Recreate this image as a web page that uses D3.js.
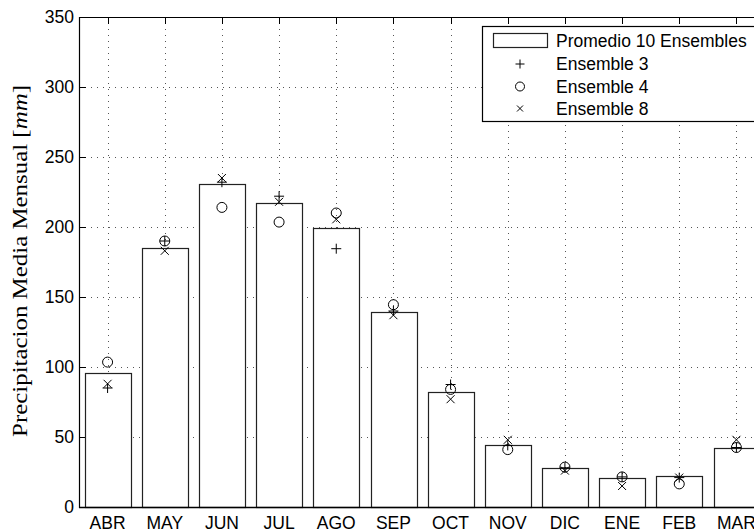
<!DOCTYPE html>
<html>
<head>
<meta charset="utf-8">
<script src="https://cdn.jsdelivr.net/npm/d3@7"></script>
<style>
  html, body { margin: 0; padding: 0; background: #fff; }
  svg { display: block; }
  .sans { font-family: "Liberation Sans", Arial, Helvetica, sans-serif; }
</style>
</head>
<body>
<svg id="chart" width="754" height="531"></svg>
<script>
// Monthly mean precipitation (mm): 10-ensemble average and three single ensembles
const months = ["ABR", "MAY", "JUN", "JUL", "AGO", "SEP", "OCT", "NOV", "DIC", "ENE", "FEB", "MAR"];
const promedio = [96, 185, 231, 217, 199, 139, 82, 44, 28, 20.5, 22, 42];
const ensemble3 = [85, 190, 232, 222, 184.5, 140, 87.5, 44, 28, 21.5, 21, 42.5];
const ensemble4 = [103.5, 190, 214, 203.5, 210, 144.5, 84, 41, 28.5, 21.5, 16.5, 42.5];
const ensemble8 = [88, 183, 235, 218, 205.5, 137, 77, 48, 26, 15, 21, 48];
const yTicks = [0, 50, 100, 150, 200, 250, 300, 350];

const svg = d3.select("#chart");
const plotL = 79, plotR = 765, plotT = 17, plotB = 507;

const x = d3.scaleLinear().domain([0.5, 12.5]).range([plotL, plotR]);
const y = d3.scaleLinear().domain([0, 350]).range([plotB, plotT]);
const barW = x(0.8) - x(0);
const tickLen = 7;
const fontPx = 17.5;

// dotted grid
const grid = svg.append("g").attr("stroke", "#555").attr("stroke-width", 1)
  .attr("stroke-dasharray", "1,5");
grid.selectAll("line.h").data(yTicks.filter(t => t > 0 && t < 350)).join("line")
  .attr("x1", plotL).attr("x2", plotR)
  .attr("y1", d => Math.round(y(d)) + 0.5).attr("y2", d => Math.round(y(d)) + 0.5);
grid.selectAll("line.v").data(months).join("line")
  .attr("x1", (d, i) => Math.round(x(i + 1)) + 0.5).attr("x2", (d, i) => Math.round(x(i + 1)) + 0.5)
  .attr("y1", plotT).attr("y2", plotB);

// inward ticks
const ticks = svg.append("g").attr("stroke", "#000").attr("stroke-width", 1);
ticks.selectAll("line.yl").data(yTicks).join("line")
  .attr("x1", plotL).attr("x2", plotL + tickLen)
  .attr("y1", d => Math.round(y(d)) + 0.5).attr("y2", d => Math.round(y(d)) + 0.5);
ticks.selectAll("line.xt").data(months).join("line")
  .attr("x1", (d, i) => Math.round(x(i + 1)) + 0.5).attr("x2", (d, i) => Math.round(x(i + 1)) + 0.5)
  .attr("y1", plotT).attr("y2", plotT + tickLen);

// bars
svg.append("g").selectAll("rect").data(promedio).join("rect")
  .attr("x", (d, i) => Math.round(x(i + 1) - barW / 2) + 0.5)
  .attr("width", Math.round(barW))
  .attr("y", d => Math.round(y(d)) + 0.5)
  .attr("height", d => Math.round(y(0)) - Math.round(y(d)))
  .attr("fill", "#fff").attr("stroke", "#222").attr("stroke-width", 1.2);

// marker shapes
function plus(g, cx, cy, s) {
  g.append("path").attr("d", `M${cx - s},${cy}H${cx + s}M${cx},${cy - s}V${cy + s}`)
    .attr("stroke", "#000").attr("stroke-width", 1).attr("fill", "none");
}
function circ(g, cx, cy, r) {
  g.append("circle").attr("cx", cx).attr("cy", cy).attr("r", r)
    .attr("stroke", "#000").attr("stroke-width", 1).attr("fill", "none");
}
function cross(g, cx, cy, s) {
  g.append("path").attr("d", `M${cx - s},${cy - s}L${cx + s},${cy + s}M${cx - s},${cy + s}L${cx + s},${cy - s}`)
    .attr("stroke", "#000").attr("stroke-width", 1).attr("fill", "none");
}

const marks = svg.append("g");
ensemble3.forEach((v, i) => plus(marks, x(i + 1), y(v), 5));
ensemble4.forEach((v, i) => circ(marks, x(i + 1), y(v), 5));
ensemble8.forEach((v, i) => cross(marks, x(i + 1), y(v), 4));

// axes spines
const ax = svg.append("g").attr("stroke", "#000").attr("fill", "none");
ax.append("line").attr("x1", plotL + 0.5).attr("x2", plotL + 0.5).attr("y1", plotT).attr("y2", plotB + 1)
  .attr("stroke-width", 1.2);
ax.append("line").attr("x1", plotL).attr("x2", plotR).attr("y1", plotT + 0.5).attr("y2", plotT + 0.5)
  .attr("stroke-width", 1.2);
ax.append("line").attr("x1", plotL).attr("x2", plotR).attr("y1", plotB + 0.5).attr("y2", plotB + 0.5)
  .attr("stroke-width", 1.6);

// tick labels
svg.append("g").attr("class", "sans").selectAll("text").data(yTicks).join("text")
  .attr("x", plotL - 5).attr("y", d => y(d)).attr("dy", "0.36em")
  .attr("text-anchor", "end").attr("font-size", fontPx).text(d => d);
svg.append("g").attr("class", "sans").selectAll("text").data(months).join("text")
  .attr("x", (d, i) => x(i + 1)).attr("y", 528.5)
  .attr("text-anchor", "middle").attr("font-size", fontPx).text(d => d);

// y-axis title (serif, stretched to span the axis like a TeX label)
const titleLen = 352;
const ytG = svg.append("g")
  .attr("transform", `translate(27,${(plotT + plotB) / 2 - 1}) rotate(-90)`);
const yt = ytG.append("text")
  .attr("text-anchor", "middle")
  .attr("font-family", "'Liberation Serif', 'DejaVu Serif', serif")
  .attr("font-size", 20.5);
yt.append("tspan").text("Precipitacion Media Mensual [");
yt.append("tspan").attr("font-style", "italic").text("mm");
yt.append("tspan").text("]");
const natural = yt.node().getComputedTextLength();
if (natural > 0) yt.attr("transform", `scale(${titleLen / natural},1)`);

// legend
const lg = svg.append("g").attr("class", "sans");
lg.append("rect").attr("x", 482.5).attr("y", 26.5).attr("width", 320).attr("height", 95)
  .attr("fill", "#fff").attr("stroke", "#000").attr("stroke-width", 1.2);
const rows = [
  { label: "Promedio 10 Ensembles", kind: "bar" },
  { label: "Ensemble 3", kind: "plus" },
  { label: "Ensemble 4", kind: "circ" },
  { label: "Ensemble 8", kind: "cross" }
];
const rowY = [41, 64, 86.5, 108.5];
rows.forEach((r, i) => {
  const cy = rowY[i];
  if (r.kind === "bar") {
    lg.append("rect").attr("x", 493.5).attr("y", cy - 7.5).attr("width", 54).attr("height", 14)
      .attr("fill", "#fff").attr("stroke", "#222").attr("stroke-width", 1.2);
  } else if (r.kind === "plus") plus(lg, 520, cy, 4.5);
  else if (r.kind === "circ") circ(lg, 520, cy, 4.5);
  else cross(lg, 520, cy, 3);
  lg.append("text").attr("x", 556).attr("y", cy).attr("dy", "0.36em")
    .attr("font-size", fontPx).text(r.label);
});
</script>
</body>
</html>
